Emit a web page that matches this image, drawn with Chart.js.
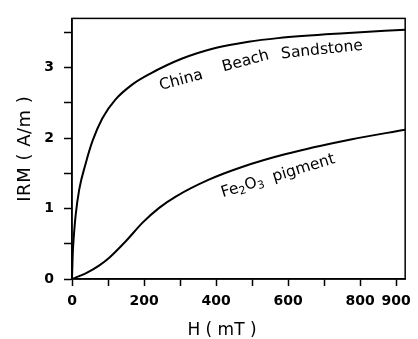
<!DOCTYPE html>
<html><head><meta charset="utf-8">
<script src="https://cdn.jsdelivr.net/npm/chart.js@4/dist/chart.umd.min.js"></script>
<style>html,body{margin:0;padding:0;background:#fff;} #wrap{width:418px;height:339px;}</style>
</head><body>
<div id="wrap"><canvas id="c" width="418" height="339"></canvas></div>
<script>
// ---- data ----
const sandstoneH   = [0, 2, 5, 10, 20, 38, 57, 84, 121, 167, 215, 306, 398, 490, 572, 756, 925];
const sandstoneIRM = [0, 0.35, 0.6, 0.9, 1.27, 1.64, 1.96, 2.28, 2.55, 2.76, 2.91, 3.13, 3.28, 3.37, 3.42, 3.49, 3.54];
const pigmentH     = [0, 20, 38, 75, 105, 150, 196, 242, 288, 380, 472, 591, 774, 925];
const pigmentIRM   = [0, 0.04, 0.08, 0.19, 0.31, 0.54, 0.80, 1.01, 1.17, 1.41, 1.59, 1.77, 1.98, 2.12];
const xTicks       = [0, 100, 200, 300, 400, 500, 600, 700, 800, 900];
const xTickLabels  = [0, 200, 400, 600, 800, 900];
const yTicks       = [0, 0.5, 1, 1.5, 2, 2.5, 3, 3.5];
const yTickLabels  = [0, 1, 2, 3];
const xTitle = 'H ( mT )';
const yTitle = 'IRM ( A/m )';
const curveLabels = [
  {h: 303, irm: 2.82, angle: -15, parts: [{t: 'China'}]},
  {h: 482, irm: 3.09, angle: -15, parts: [{t: 'Beach'}]},
  {h: 694, irm: 3.25, angle: -6,  parts: [{t: 'Sandstone'}]},
  {h: 572, irm: 1.46, angle: -17, parts: [{t: 'Fe'}, {t: '2', sub: true}, {t: 'O'}, {t: '3', sub: true}, {t: '  pigment'}]}
];

const FONT = '"DejaVu Sans", sans-serif';

const decor = {
  id: 'decor',
  afterDraw(chart) {
    const {ctx, chartArea: a, scales: {x, y}} = chart;
    ctx.save();
    ctx.strokeStyle = '#000';
    ctx.lineWidth = 1.5;
    ctx.strokeRect(a.left, a.top, a.right - a.left, a.bottom - a.top);
    ctx.fillStyle = '#000';
    ctx.textBaseline = 'middle';
    ctx.textAlign = 'left';
    for (const an of curveLabels) {
      const px = x.getPixelForValue(an.h), py = y.getPixelForValue(an.irm);
      ctx.save();
      ctx.translate(px, py);
      ctx.rotate(an.angle * Math.PI / 180);
      let total = 0;
      const parts = an.parts.map(p => {
        ctx.font = (p.sub ? '11px ' : '15.5px ') + FONT;
        const w = ctx.measureText(p.t).width;
        total += w;
        return Object.assign({w}, p);
      });
      let cx = -total / 2;
      for (const p of parts) {
        ctx.font = (p.sub ? '11px ' : '15.5px ') + FONT;
        ctx.fillText(p.t, cx, p.sub ? 4 : 0);
        cx += p.w;
      }
      ctx.restore();
    }
    ctx.textAlign = 'center';
    ctx.font = '17px ' + FONT;
    ctx.fillText(xTitle, a.left + 150, 331);
    ctx.save();
    ctx.translate(25, (a.top + a.bottom) / 2);
    ctx.rotate(-Math.PI / 2);
    ctx.font = '18px ' + FONT;
    ctx.letterSpacing = '0.5px';
    ctx.fillText(yTitle, 0, 0);
    ctx.restore();
    ctx.restore();
  }
};

const toPts = (xs, ys) => xs.map((v, i) => ({x: v, y: ys[i]}));
const tickFont = {family: 'DejaVu Sans', size: 14, weight: 'bold'};

new Chart(document.getElementById('c'), {
  type: 'line',
  data: {
    datasets: [
      {label: 'China Beach Sandstone', data: toPts(sandstoneH, sandstoneIRM)},
      {label: 'Fe2O3 pigment', data: toPts(pigmentH, pigmentIRM)}
    ]
  },
  options: {
    responsive: false,
    devicePixelRatio: 1,
    animation: false,
    layout: {padding: {left: 0, right: 8, top: 10, bottom: 0}},
    elements: {
      line: {borderColor: '#000', borderWidth: 2, cubicInterpolationMode: 'monotone', fill: false},
      point: {radius: 0}
    },
    plugins: {legend: {display: false}, tooltip: {enabled: false}},
    scales: {
      x: {
        type: 'linear', min: 0, max: 925,
        afterBuildTicks: s => { s.ticks = xTicks.map(v => ({value: v})); },
        afterFit: s => { s.height = 60; },
        ticks: {
          autoSkip: false, maxRotation: 0, minRotation: 0, padding: 7, color: '#000', font: tickFont,
          callback: v => xTickLabels.includes(v) ? String(v) : ''
        },
        grid: {drawOnChartArea: false, drawTicks: true, tickLength: 7, color: '#000', tickWidth: 1.5},
        border: {display: true, color: '#000', width: 1.5}
      },
      y: {
        type: 'linear', min: 0, max: 3.7,
        afterBuildTicks: s => { s.ticks = yTicks.map(v => ({value: v})); },
        afterFit: s => { s.width = 72; },
        ticks: {
          padding: 10, color: '#000', font: tickFont,
          callback: v => yTickLabels.includes(v) ? String(v) : ''
        },
        grid: {drawOnChartArea: false, drawTicks: true, tickLength: 8, color: '#000', tickWidth: 1.5},
        border: {display: true, color: '#000', width: 1.5}
      }
    }
  },
  plugins: [decor]
});
</script>
</body></html>
